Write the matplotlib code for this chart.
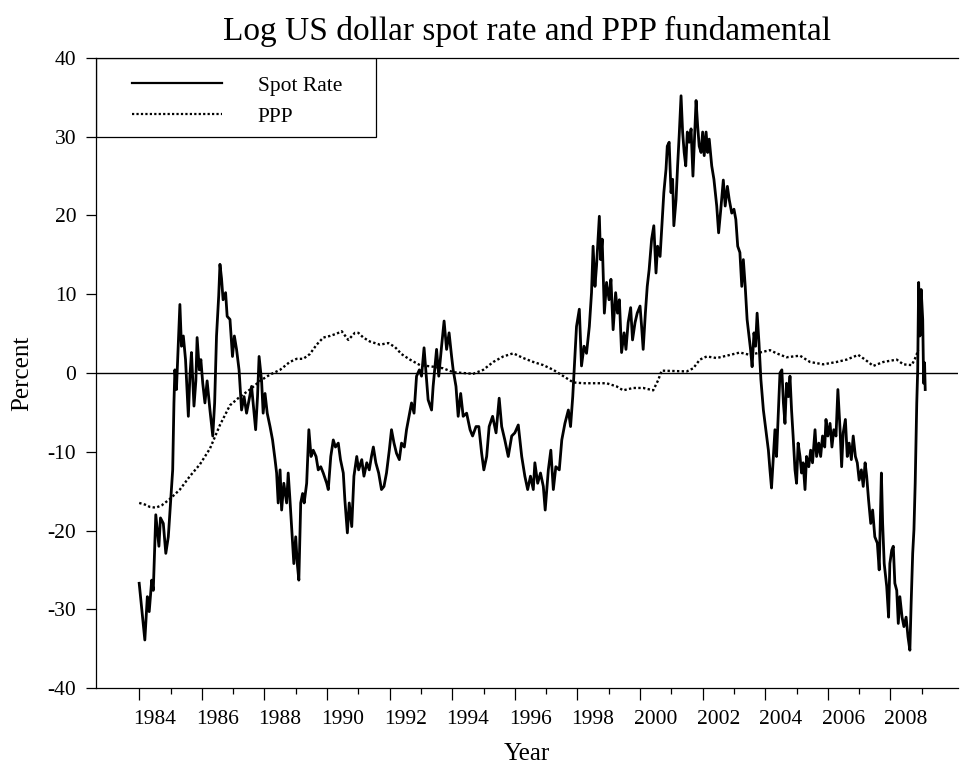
import matplotlib
matplotlib.use("Agg")
import matplotlib.pyplot as plt
import matplotlib.transforms as mtransforms
from matplotlib.patches import Rectangle

# values (year, percent)
spot_year = [
    1984.00, 1984.18, 1984.26, 1984.32, 1984.40, 1984.45, 1984.50, 1984.53, 1984.63, 1984.68,
    1984.77, 1984.85, 1984.93, 1985.00, 1985.07, 1985.11, 1985.14, 1985.19, 1985.26, 1985.30,
    1985.35, 1985.41, 1985.48, 1985.57, 1985.62, 1985.67, 1985.75, 1985.81, 1985.85, 1985.92,
    1985.97, 1986.03, 1986.10, 1986.17, 1986.26, 1986.35, 1986.41, 1986.47, 1986.54, 1986.58,
    1986.63, 1986.68, 1986.76, 1986.81, 1986.90, 1986.98, 1987.04, 1987.11, 1987.19, 1987.27,
    1987.35, 1987.43, 1987.51, 1987.59, 1987.66, 1987.72, 1987.78, 1987.83, 1987.91, 1987.96,
    1988.02, 1988.09, 1988.18, 1988.26, 1988.34, 1988.39, 1988.44, 1988.50, 1988.55, 1988.62,
    1988.71, 1988.76, 1988.81, 1988.89, 1988.94, 1989.00, 1989.05, 1989.10, 1989.16, 1989.22,
    1989.27, 1989.35, 1989.42, 1989.49, 1989.56, 1989.65, 1989.72, 1989.80, 1989.88, 1989.99,
    1990.04, 1990.12, 1990.20, 1990.27, 1990.36, 1990.43, 1990.52, 1990.57, 1990.65, 1990.71,
    1990.79, 1990.86, 1990.95, 1991.01, 1991.11, 1991.18, 1991.27, 1991.35, 1991.42, 1991.48,
    1991.56, 1991.65, 1991.74, 1991.82, 1991.90, 1991.99, 1992.06, 1992.14, 1992.22, 1992.31,
    1992.38, 1992.47, 1992.54, 1992.70, 1992.78, 1992.86, 1992.95, 1993.02, 1993.10, 1993.18,
    1993.23, 1993.34, 1993.39, 1993.50, 1993.57, 1993.66, 1993.74, 1993.82, 1993.90, 1993.98,
    1994.03, 1994.12, 1994.19, 1994.27, 1994.35, 1994.46, 1994.57, 1994.65, 1994.76, 1994.85,
    1994.94, 1995.01, 1995.10, 1995.18, 1995.29, 1995.40, 1995.50, 1995.58, 1995.68, 1995.79,
    1995.90, 1996.00, 1996.11, 1996.22, 1996.32, 1996.41, 1996.50, 1996.59, 1996.64, 1996.73,
    1996.82, 1996.91, 1996.97, 1997.07, 1997.15, 1997.23, 1997.31, 1997.42, 1997.50, 1997.60,
    1997.71, 1997.78, 1997.85, 1997.89, 1997.97, 1998.06, 1998.13, 1998.21, 1998.29, 1998.38,
    1998.45, 1998.50, 1998.56, 1998.61, 1998.70, 1998.74, 1998.79, 1998.86, 1998.93, 1999.01,
    1999.07, 1999.14, 1999.22, 1999.28, 1999.34, 1999.41, 1999.49, 1999.55, 1999.62, 1999.70,
    1999.76, 1999.84, 1999.91, 2000.00, 2000.05, 2000.10, 2000.17, 2000.23, 2000.29, 2000.37,
    2000.44, 2000.51, 2000.56, 2000.64, 2000.69, 2000.76, 2000.83, 2000.87, 2000.93, 2000.99,
    2001.04, 2001.08, 2001.15, 2001.20, 2001.25, 2001.31, 2001.36, 2001.41, 2001.46, 2001.51,
    2001.57, 2001.63, 2001.69, 2001.73, 2001.79, 2001.84, 2001.89, 2001.95, 2002.00, 2002.05,
    2002.11, 2002.16, 2002.21, 2002.29, 2002.36, 2002.45, 2002.51, 2002.58, 2002.66, 2002.72,
    2002.79, 2002.85, 2002.93, 2003.00, 2003.06, 2003.12, 2003.19, 2003.25, 2003.30, 2003.36,
    2003.42, 2003.48, 2003.53, 2003.58, 2003.64, 2003.69, 2003.74, 2003.80, 2003.86, 2003.94,
    2004.02, 2004.10, 2004.15, 2004.20, 2004.26, 2004.31, 2004.36, 2004.42, 2004.47, 2004.53,
    2004.58, 2004.63, 2004.68, 2004.74, 2004.79, 2004.84, 2004.89, 2004.95, 2005.00, 2005.05,
    2005.11, 2005.16, 2005.21, 2005.27, 2005.32, 2005.39, 2005.45, 2005.51, 2005.59, 2005.64,
    2005.71, 2005.77, 2005.83, 2005.90, 2005.94, 2006.00, 2006.07, 2006.13, 2006.19, 2006.26,
    2006.32, 2006.39, 2006.44, 2006.49, 2006.56, 2006.62, 2006.68, 2006.75, 2006.81, 2006.88,
    2006.94, 2007.00, 2007.07, 2007.13, 2007.19, 2007.24, 2007.30, 2007.37, 2007.43, 2007.50,
    2007.58, 2007.64, 2007.71, 2007.75, 2007.80, 2007.88, 2007.94, 2007.98, 2008.04, 2008.09,
    2008.14, 2008.20, 2008.25, 2008.30, 2008.37, 2008.43, 2008.50, 2008.56, 2008.62, 2008.66,
    2008.71, 2008.75, 2008.79, 2008.84, 2008.87, 2008.90, 2008.94, 2008.98, 2009.03, 2009.06,
    2009.09, 2009.11,
]
spot_pct = [
    -26.7, -33.9, -28.4, -30.3, -26.3, -27.6, -21.6, -18.0, -22.0, -18.4,
    -19.1, -22.9, -20.8, -16.5, -12.3, -3.8, 0.4, -2.1, 4.7, 8.7,
    3.4, 4.7, 1.7, -5.5, -0.4, 2.6, -4.2, -1.0, 4.5, 0.4,
    1.7, -1.3, -3.8, -1.0, -4.7, -8.0, -3.8, 4.7, 9.8, 13.8,
    12.0, 9.3, 10.2, 7.2, 6.8, 2.1, 4.7, 3.0, 0.4, -4.7,
    -3.0, -5.1, -3.4, -1.7, -4.7, -7.2, -3.0, 2.1, -1.0, -5.1,
    -2.6, -5.1, -6.8, -8.5, -11.0, -12.7, -16.5, -12.3, -17.4, -14.0,
    -16.5, -12.7, -15.7, -20.8, -24.2, -20.8, -24.2, -26.3, -16.5, -15.3,
    -16.5, -14.0, -7.2, -10.6, -9.8, -10.6, -12.3, -11.9, -12.7, -14.0,
    -14.8, -10.6, -8.5, -9.4, -8.9, -11.0, -12.7, -16.1, -20.3, -16.5,
    -19.5, -13.1, -10.6, -12.3, -11.0, -13.1, -11.4, -12.3, -10.6, -9.4,
    -11.4, -12.7, -14.8, -14.4, -12.7, -9.8, -7.2, -8.9, -10.2, -11.0,
    -8.9, -9.4, -7.2, -3.8, -5.1, -0.4, 0.4, -0.4, 3.2, -0.8,
    -3.4, -4.7, -1.7, 3.0, -0.4, 3.4, 6.6, 3.0, 5.1, 2.1,
    0.4, -1.7, -5.5, -2.6, -5.5, -5.1, -7.2, -8.0, -6.8, -6.8,
    -10.2, -12.3, -10.6, -6.8, -5.5, -7.6, -3.2, -6.8, -8.5, -10.6,
    -8.0, -7.6, -6.6, -10.6, -13.1, -14.8, -13.1, -14.8, -11.4, -14.0,
    -12.7, -14.4, -17.4, -12.3, -9.8, -14.8, -11.9, -12.3, -8.5, -6.4,
    -4.7, -6.8, -3.0, 0.0, 5.9, 8.1, 0.9, 3.4, 2.5, 5.9,
    10.2, 16.1, 11.0, 13.6, 19.9, 14.4, 17.0, 7.6, 11.5, 9.3,
    11.9, 5.5, 10.2, 7.6, 9.3, 2.6, 5.1, 3.0, 6.4, 8.3,
    4.2, 6.4, 7.6, 8.5, 5.9, 3.0, 7.6, 11.0, 13.1, 17.0,
    18.7, 12.7, 16.1, 14.8, 18.2, 22.9, 25.9, 28.8, 29.3, 22.9,
    24.6, 18.7, 22.0, 26.3, 30.1, 35.2, 30.6, 28.0, 26.3, 30.6,
    29.3, 31.0, 25.0, 28.8, 34.6, 31.4, 28.8, 28.0, 30.6, 27.6,
    30.6, 28.0, 29.7, 26.3, 24.6, 21.2, 17.8, 20.8, 24.5, 21.2,
    23.7, 22.0, 20.3, 20.8, 19.5, 16.1, 15.3, 11.0, 14.4, 11.0,
    6.8, 4.7, 3.0, 0.8, 5.1, 3.4, 7.6, 3.8, -0.8, -4.7,
    -7.2, -9.8, -12.3, -14.6, -10.6, -7.2, -10.6, -4.7, 0.0, 0.4,
    -3.8, -6.4, -1.3, -3.0, -0.4, -4.7, -8.0, -12.3, -14.0, -8.9,
    -10.6, -12.7, -11.4, -14.8, -10.6, -11.9, -9.8, -11.4, -7.2, -10.6,
    -8.9, -10.6, -8.0, -9.4, -5.9, -8.0, -6.4, -9.4, -7.2, -8.0,
    -2.1, -7.2, -11.9, -7.6, -5.9, -10.6, -8.9, -11.0, -8.0, -10.6,
    -11.4, -13.6, -12.3, -14.4, -11.4, -13.1, -16.1, -19.1, -17.4, -20.8,
    -21.6, -25.0, -12.7, -19.1, -24.2, -27.1, -31.0, -24.2, -22.5, -22.0,
    -26.7, -27.6, -31.8, -28.4, -31.0, -32.2, -31.0, -33.5, -35.2, -29.3,
    -22.9, -19.9, -14.0, -3.8, 0.4, 11.5, 4.7, 10.6, 6.8, -1.3,
    1.3, -2.1,
]

ppp_year = [
    1984.00, 1984.18, 1984.34, 1984.53, 1984.72, 1984.98, 1985.30, 1985.62, 1985.94, 1986.26,
    1986.58, 1986.90, 1987.22, 1987.54, 1987.86, 1988.18, 1988.50, 1988.81, 1989.03, 1989.24,
    1989.45, 1989.67, 1989.88, 1990.09, 1990.31, 1990.47, 1990.68, 1990.89, 1991.00, 1991.16,
    1991.37, 1991.69, 1991.96, 1992.17, 1992.38, 1992.65, 1992.97, 1993.39, 1993.71, 1994.03,
    1994.35, 1994.67, 1994.99, 1995.31, 1995.63, 1995.95, 1996.27, 1996.59, 1996.91, 1997.23,
    1997.55, 1997.87, 1998.19, 1998.50, 1998.93, 1999.25, 1999.46, 1999.78, 2000.10, 2000.42,
    2000.58, 2000.69, 2001.49, 2001.70, 2001.91, 2002.13, 2002.45, 2002.77, 2003.19, 2003.51,
    2003.83, 2004.15, 2004.36, 2004.68, 2005.11, 2005.43, 2005.85, 2006.28, 2006.60, 2006.97,
    2007.19, 2007.45, 2007.77, 2008.20, 2008.41, 2008.68, 2008.78, 2008.89,
]
ppp_pct = [
    -16.5, -16.7, -17.0, -17.1, -16.8, -16.0, -14.8, -13.1, -11.6, -9.6,
    -6.6, -4.1, -3.0, -2.1, -1.0, -0.2, 0.4, 1.4, 1.8, 1.8,
    2.4, 3.6, 4.5, 4.7, 5.0, 5.3, 4.2, 5.1, 5.1, 4.5,
    4.0, 3.6, 3.8, 3.3, 2.4, 1.7, 1.0, 0.8, 0.6, 0.1,
    0.0, -0.1, 0.4, 1.4, 2.1, 2.5, 1.9, 1.4, 1.0, 0.4,
    -0.4, -1.2, -1.3, -1.3, -1.3, -1.7, -2.2, -1.9, -1.9, -2.2,
    -0.9, 0.3, 0.2, 0.6, 1.7, 2.1, 1.9, 2.2, 2.6, 2.3,
    2.6, 2.9, 2.5, 2.0, 2.2, 1.4, 1.1, 1.4, 1.7, 2.3,
    1.7, 0.9, 1.4, 1.7, 1.1, 1.0, 1.8, 2.9,
]

even_years = list(range(1984, 2009, 2))
odd_years = list(range(1985, 2010, 2))

plt.rcParams["font.family"] = ["Liberation Serif", "DejaVu Serif"]
plt.rcParams["axes.unicode_minus"] = False

fig = plt.figure(figsize=(9.6, 7.69), dpi=100)
ax = fig.add_axes([0.1, 0.1053, 0.898, 0.8193])

ax.axhline(0, color="black", lw=1.0, zorder=1)
ax.plot(spot_year, spot_pct, color="black", lw=2.0, label="Spot Rate", zorder=3)
ax.plot(ppp_year, ppp_pct, color="black", lw=1.7, linestyle=(0, (1, 1.0)), label="PPP", zorder=2)

ax.set_xlim(1982.62, 2010.16)
ax.set_ylim(-40, 40)
ax.set_yticks(range(-40, 41, 10))
ax.set_xticks(even_years)
ax.set_xticks(odd_years, minor=True)
ax.tick_params(axis="x", which="major", length=8.6, width=0.9, labelsize=15.5, pad=7)
ax.tick_params(axis="x", which="minor", length=4.3, width=0.9)
ax.tick_params(axis="y", length=7.2, width=0.9, labelsize=15.5, pad=7)

# year labels sit in the middle of the year, right of the tick
shift = mtransforms.ScaledTranslation(0.156, 0, fig.dpi_scale_trans)
for lab in ax.get_xticklabels():
    lab.set_transform(lab.get_transform() + shift)

for side in ["left", "bottom", "top"]:
    ax.spines[side].set_linewidth(0.9)
ax.spines["right"].set_visible(False)

ax.set_xlabel("Year", fontsize=18, labelpad=10)
ax.set_ylabel("Percent", fontsize=18, labelpad=10)
ax.set_title("Log US dollar spot rate and PPP fundamental", fontsize=24, pad=13)

box = Rectangle((0, 0.875), 0.3248, 0.125, transform=ax.transAxes, fill=False,
                edgecolor="black", lw=0.9, zorder=4)
ax.add_patch(box)
leg = ax.legend(loc="upper left", bbox_to_anchor=(0.0414, 0.972), frameon=False,
                borderpad=0, borderaxespad=0, fontsize=15.5, handlelength=4.2,
                handletextpad=1.65, labelspacing=0.5)
for h in leg.get_lines():
    h.set_linewidth(1.6)

fig.savefig("out.png", dpi=100)
